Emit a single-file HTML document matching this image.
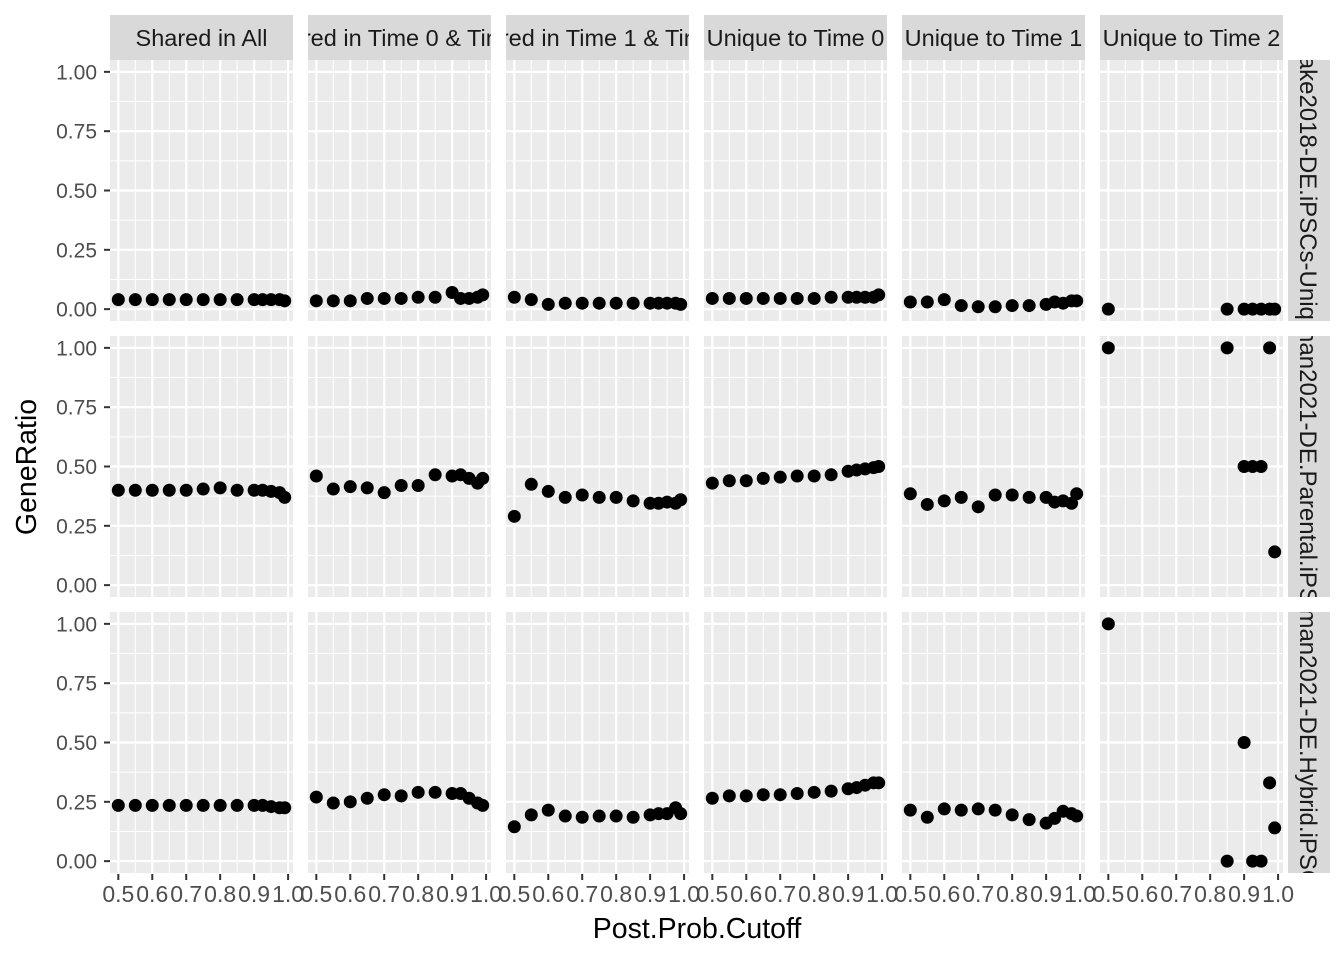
<!DOCTYPE html>
<html><head><meta charset="utf-8"><style>
html,body{margin:0;padding:0;background:#fff}
svg{display:block;font-family:"Liberation Sans",Arial,sans-serif}
</style></head><body>
<svg id="c" width="1344" height="960" xmlns="http://www.w3.org/2000/svg"></svg>
<script>
const colLabels=["Shared in All","Shared in Time 0 & Time 1","Shared in Time 1 & Time 2","Unique to Time 0","Unique to Time 1","Unique to Time 2"];
const rowLabels=["Blake2018-DE.iPSCs-Unique","Friedman2021-DE.Parental.iPSCs-all","Friedman2021-DE.Hybrid.iPSCs-all"];
const xVals=[0.5,0.55,0.6,0.65,0.7,0.75,0.8,0.85,0.9,0.925,0.95,0.975,0.99];
const xVals6=[0.5,0.85,0.9,0.925,0.95,0.975,0.99];
const xTicks=[0.5,0.6,0.7,0.8,0.9,1.0];
const xTickLabels=["0.5","0.6","0.7","0.8","0.9","1.0"];
const yTicks=[0,0.25,0.5,0.75,1];
const yTickLabels=["0.00","0.25","0.50","0.75","1.00"];
const r1c1=[0.04,0.04,0.04,0.04,0.04,0.04,0.04,0.04,0.04,0.04,0.04,0.04,0.035];
const r1c2=[0.035,0.035,0.035,0.045,0.045,0.045,0.05,0.05,0.07,0.045,0.045,0.05,0.06];
const r1c3=[0.05,0.04,0.02,0.025,0.025,0.025,0.025,0.025,0.025,0.025,0.025,0.025,0.02];
const r1c4=[0.045,0.045,0.045,0.045,0.045,0.045,0.045,0.05,0.05,0.05,0.05,0.05,0.06];
const r1c5=[0.03,0.03,0.04,0.015,0.01,0.01,0.015,0.015,0.02,0.03,0.025,0.035,0.035];
const r1c6=[0,0,0,0,0,0,0];
const r2c1=[0.40,0.40,0.40,0.40,0.40,0.405,0.41,0.40,0.40,0.40,0.395,0.39,0.37];
const r2c2=[0.46,0.405,0.415,0.41,0.39,0.42,0.42,0.465,0.46,0.465,0.45,0.43,0.45];
const r2c3=[0.29,0.425,0.395,0.37,0.38,0.37,0.37,0.355,0.345,0.345,0.35,0.345,0.36];
const r2c4=[0.43,0.44,0.44,0.45,0.455,0.46,0.46,0.465,0.48,0.485,0.49,0.495,0.50];
const r2c5=[0.385,0.34,0.355,0.37,0.33,0.38,0.38,0.37,0.37,0.35,0.355,0.345,0.385];
const r2c6=[1,1,0.5,0.5,0.5,1,0.14];
const r3c1=[0.235,0.235,0.235,0.235,0.235,0.235,0.235,0.235,0.235,0.235,0.23,0.225,0.225];
const r3c2=[0.27,0.245,0.25,0.265,0.28,0.275,0.29,0.29,0.285,0.285,0.265,0.245,0.235];
const r3c3=[0.145,0.195,0.215,0.19,0.185,0.19,0.19,0.185,0.195,0.2,0.2,0.225,0.2];
const r3c4=[0.265,0.275,0.275,0.28,0.28,0.285,0.29,0.295,0.305,0.31,0.32,0.33,0.33];
const r3c5=[0.215,0.185,0.22,0.215,0.22,0.215,0.195,0.175,0.16,0.18,0.21,0.2,0.19];
const r3c6=[1,0,0.5,0,0,0.33,0.14];
const grid=[[r1c1,r1c2,r1c3,r1c4,r1c5,r1c6],[r2c1,r2c2,r2c3,r2c4,r2c5,r2c6],[r3c1,r3c2,r3c3,r3c4,r3c5,r3c6]];

const NS="http://www.w3.org/2000/svg";
const svg=document.getElementById('c');
function mk(t,a,p){const e=document.createElementNS(NS,t);for(const k in a)e.setAttribute(k,a[k]);(p||svg).appendChild(e);return e;}
const PX0=110,PW=183,GAP=15,PY0=60,PH=261,VGAP=15;
const xmin=0.4755,xmax=1.0145,ymin=-0.05,ymax=1.05;
function xs(c,v){return PX0+c*(PW+GAP)+(v-xmin)/(xmax-xmin)*PW;}
function ys(r,v){return PY0+r*(PH+VGAP)+PH-(v-ymin)/(ymax-ymin)*PH;}
const defs=mk('defs',{});
for(let c=0;c<6;c++){
  const cp=mk('clipPath',{id:'cc'+c},defs);
  mk('rect',{x:PX0+c*(PW+GAP),y:15,width:PW,height:45},cp);
}
for(let r=0;r<3;r++){
  const cp=mk('clipPath',{id:'rc'+r},defs);
  mk('rect',{x:1288,y:PY0+r*(PH+VGAP),width:42,height:PH},cp);
}
for(let r=0;r<3;r++){
  for(let c=0;c<6;c++){
    const x0=PX0+c*(PW+GAP),y0=PY0+r*(PH+VGAP);
    const bg=mk('rect',{x:x0,y:y0,width:PW,height:PH,fill:'#EBEBEB'});
    
    
    for(let i=0;i<yTicks.length-1;i++){const m=(yTicks[i]+yTicks[i+1])/2;const y=ys(r,m);mk('line',{x1:x0,x2:x0+PW,y1:y,y2:y,stroke:'#fff','stroke-width':1});}
    for(let i=0;i<xTicks.length-1;i++){const m=(xTicks[i]+xTicks[i+1])/2;const x=xs(c,m);mk('line',{x1:x,x2:x,y1:y0,y2:y0+PH,stroke:'#fff','stroke-width':1});}
    yTicks.forEach(v=>{const y=ys(r,v);mk('line',{x1:x0,x2:x0+PW,y1:y,y2:y,stroke:'#fff','stroke-width':2.2});});
    xTicks.forEach(v=>{const x=xs(c,v);mk('line',{x1:x,x2:x,y1:y0,y2:y0+PH,stroke:'#fff','stroke-width':2.2});});
    const xv=c===5?xVals6:xVals;
    grid[r][c].forEach((v,i)=>{
      const p=mk('circle',{cx:xs(c,xv[i]),cy:ys(r,v),r:6.5,fill:'#000'});
      
      
    });
  }
  yTicks.forEach((v,i)=>{
    const y=ys(r,v);
    mk('line',{x1:104,x2:110,y1:y,y2:y,stroke:'#333','stroke-width':2});
    const t=mk('text',{x:97,y:y+7.5,'text-anchor':'end','font-size':21,fill:'#4D4D4D'});
    t.textContent=yTickLabels[i];
    
    
  });
  const s=mk('rect',{x:1288,y:PY0+r*(PH+VGAP),width:42,height:PH,fill:'#D9D9D9'});
  
  
  const cy=PY0+r*(PH+VGAP)+PH/2;
  const g=mk('g',{'clip-path':'url(#rc'+r+')'});
  const t=mk('text',{x:1300,y:cy,'text-anchor':'middle','font-size':24,fill:'#1A1A1A',transform:'rotate(90 1300 '+cy+')'},g);
  t.textContent=rowLabels[r];
  
  
}
for(let c=0;c<6;c++){
  const x0=PX0+c*(PW+GAP);
  const s=mk('rect',{x:x0,y:15,width:PW,height:45,fill:'#D9D9D9'});
  
  
  const g=mk('g',{'clip-path':'url(#cc'+c+')'});
  const t=mk('text',{x:x0+PW/2,y:46,'text-anchor':'middle','font-size':23.5,fill:'#1A1A1A'},g);
  t.textContent=colLabels[c];
  
  
  xTicks.forEach((v,i)=>{
    const x=xs(c,v);
    mk('line',{x1:x,x2:x,y1:874,y2:880,stroke:'#333','stroke-width':2});
    const t2=mk('text',{x:x,y:902,'text-anchor':'middle','font-size':23,fill:'#4D4D4D'});
    t2.textContent=xTickLabels[i];
    
    
  });
}
const xt=mk('text',{x:697,y:938,'text-anchor':'middle','font-size':28.5,fill:'#000'});
xt.textContent='Post.Prob.Cutoff';


const yt=mk('text',{x:36,y:467,'text-anchor':'middle','font-size':28.5,fill:'#000',transform:'rotate(-90 36 467)'});
yt.textContent='GeneRatio';


</script>
</body></html>
